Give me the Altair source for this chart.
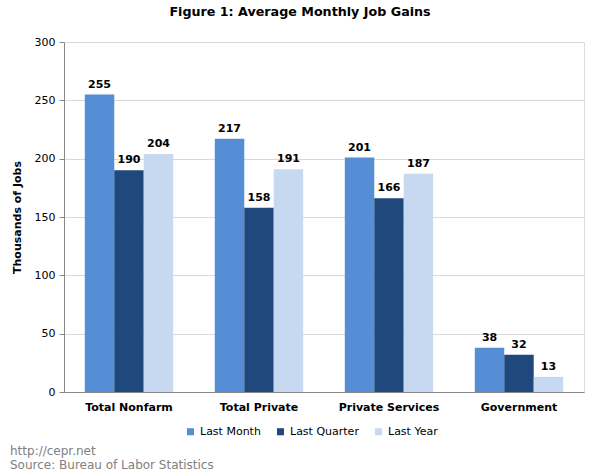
import altair as alt
import pandas as pd

categories = ["Total Nonfarm", "Total Private", "Private Services", "Government"]
series = ["Last Month", "Last Quarter", "Last Year"]
last_month = [255, 217, 201, 38]
last_quarter = [190, 158, 166, 32]
last_year = [204, 191, 187, 13]
colors = ["#558ED5", "#1F497D", "#C6D9F1"]
footer = ["http://cepr.net", "Source: Bureau of Labor Statistics"]

rows = []
for i, c in enumerate(categories):
    for s, vals in zip(series, [last_month, last_quarter, last_year]):
        rows.append({"category": c, "series": s, "value": vals[i]})
df = pd.DataFrame(rows)

FONT = "DejaVu Sans"

x = alt.X("category:N", sort=categories, title=None,
          scale=alt.Scale(paddingInner=0.32, paddingOuter=0.16),
          axis=alt.Axis(labelAngle=0, labelFont=FONT, labelFontSize=11, labelFontWeight="bold",
                        labelColor="#000000", ticks=False, domainColor="#888888",
                        labelPadding=9))
y = alt.Y("value:Q", title="Thousands of Jobs",
          scale=alt.Scale(domain=[0, 300]),
          axis=alt.Axis(values=[0, 50, 100, 150, 200, 250, 300], labelFont=FONT, labelFontSize=11,
                        labelColor="#000000", titleFont=FONT, titleFontSize=11, titleFontWeight="bold",
                        titleColor="#000000", gridColor="#D9D9D9", domainColor="#888888",
                        tickColor="#888888", tickSize=5, titlePadding=12, labelPadding=4))
xo = alt.XOffset("series:N", sort=series, scale=alt.Scale(paddingInner=0, paddingOuter=0))

bars = alt.Chart(df).mark_bar().encode(
    x=x, y=y, xOffset=xo,
    color=alt.Color("series:N", sort=series,
                    scale=alt.Scale(domain=series, range=colors),
                    legend=alt.Legend(title=None, orient="none", direction="horizontal",
                                      legendX=121, legendY=384, symbolType="square", symbolSize=50,
                                      labelFont=FONT, labelFontSize=11, labelColor="#000000",
                                      columnPadding=14, symbolStrokeWidth=0, labelOffset=4)),
)

labels = alt.Chart(df).mark_text(baseline="bottom", dy=-5, font=FONT, fontSize=11,
                                 fontWeight="bold", color="#000000").encode(
    x=x, y=y, xOffset=xo, text="value:Q")

foot1 = alt.Chart(pd.DataFrame({"t": [footer[0]]})).mark_text(
    align="left", baseline="middle", font=FONT, fontSize=12, color="#808080").encode(
    x=alt.value(-54), y=alt.value(409), text="t:N")
foot2 = alt.Chart(pd.DataFrame({"t": [footer[1]]})).mark_text(
    align="left", baseline="middle", font=FONT, fontSize=12, color="#808080").encode(
    x=alt.value(-54), y=alt.value(423), text="t:N")

chart = alt.layer(bars, labels, foot1, foot2).properties(
    width=520, height=350,
    title=alt.TitleParams("Figure 1: Average Monthly Job Gains", font=FONT, fontSize=12.7,
                          fontWeight="bold", color="#000000", anchor="middle", dx=-24, offset=17),
    autosize=alt.AutoSizeParams(type="none"),
    padding={"left": 64, "top": 42, "right": 16, "bottom": 84},
).configure_view(stroke=None).configure(background="white")

chart.save("out.html", embed_options={"renderer": "svg", "actions": False})
